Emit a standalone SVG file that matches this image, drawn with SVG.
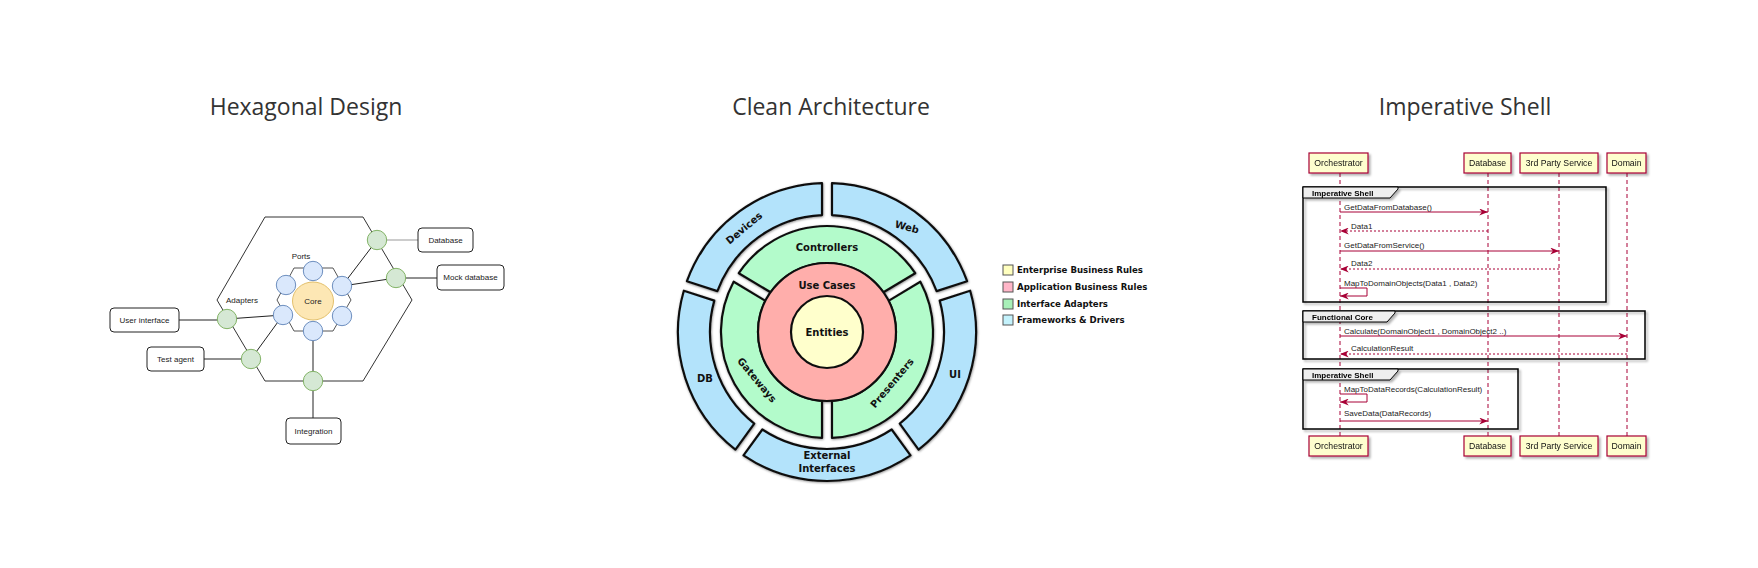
<svg xmlns="http://www.w3.org/2000/svg" width="1758" height="568" viewBox="0 0 1758 568">
<defs>
<style>
.title{font-family:"Open Sans","Liberation Sans",sans-serif;font-size:23px;fill:#333;text-anchor:middle}
.hx{font-family:"Liberation Sans",Arial,sans-serif;font-size:8px;fill:#222;text-anchor:middle;dominant-baseline:central}
.hexl{fill:none;stroke:#333;stroke-width:1}
.conn{stroke:#222;stroke-width:1;fill:none}
.grn{fill:#d5e8d4;stroke:#82b366;stroke-width:1}
.blu{fill:#dae8fc;stroke:#6c8ebf;stroke-width:1}
.box{fill:#fff;stroke:#222;stroke-width:1}
.ca{stroke:#111;stroke-width:2.2;stroke-linejoin:round}
.cab{fill:#b3e3fb}
.cag{fill:#b3fbcb}
.cal{font-family:"DejaVu Sans",Verdana,sans-serif;font-weight:bold;font-size:10px;fill:#111;text-anchor:middle;dominant-baseline:central}
.leg{font-family:"DejaVu Sans",Verdana,sans-serif;font-weight:bold;font-size:8.6px;fill:#111}
.legb{stroke:#555;stroke-width:1}
.part{fill:#fefece;stroke:#a80036;stroke-width:1.2}
.pt{font-family:"Liberation Sans",Arial,sans-serif;font-size:8.7px;fill:#111;text-anchor:middle;dominant-baseline:central}
.life{stroke:#a80036;stroke-width:1;stroke-dasharray:4,3;fill:none}
.msg{stroke:#a80036;stroke-width:1;fill:none}
.ret{stroke:#a80036;stroke-width:1;fill:none;stroke-dasharray:2,2}
.mt{font-family:"Liberation Sans",Arial,sans-serif;font-size:8px;fill:#222}
.frame{fill:none;stroke:#000;stroke-width:1.5}
.tab{fill:#eee;stroke:#000;stroke-width:1}
.gl{font-family:"Liberation Sans",Arial,sans-serif;font-size:8px;font-weight:bold;fill:#000}
</style>
<filter id="sh" x="-10%" y="-10%" width="130%" height="140%"><feDropShadow dx="2" dy="2" stdDeviation="1.2" flood-color="#000" flood-opacity="0.3"/></filter>
<filter id="soft" x="-10%" y="-10%" width="120%" height="120%"><feDropShadow dx="0.5" dy="0.8" stdDeviation="1" flood-color="#000" flood-opacity="0.45"/></filter>
<marker id="ah" viewBox="0 0 10 8" refX="10" refY="4" markerWidth="9" markerHeight="7" markerUnits="userSpaceOnUse" orient="auto-start-reverse"><path d="M0,0 L10,4 L0,8 L3,4 Z" fill="#a80036"/></marker>
</defs>
<rect width="1758" height="568" fill="#fff"/>

<text class="title" x="306" y="115">Hexagonal Design</text>
<text class="title" x="831" y="115">Clean Architecture</text>
<text class="title" x="1465" y="115">Imperative Shell</text>

<!-- ===== Hexagonal Design ===== -->
<g id="hex-outer"><polygon class="hexl" points="265,217 363,217 412,300 363,381 265,381 217,300"/></g>
<g id="hex-inner"><polygon fill="none" stroke="#555" stroke-width="1" points="294,268 333,268 351,300 333,331 294,331 277,300"/></g>
<g id="hex-connectors">
<line class="conn" x1="179" y1="320" x2="227" y2="320"/>
<line class="conn" x1="227" y1="319" x2="283" y2="315"/>
<line class="conn" x1="204" y1="359" x2="251" y2="359"/>
<line class="conn" x1="251" y1="359" x2="283" y2="315"/>
<line class="conn" x1="313" y1="331" x2="313" y2="418"/>
<line class="conn" x1="377" y1="240" x2="342" y2="286"/>
<line class="conn" x1="396" y1="278" x2="342" y2="286"/>
<line x1="377" y1="240" x2="418" y2="240" stroke="#999" stroke-width="1"/>
<line class="conn" x1="396" y1="278" x2="437" y2="278"/>
</g>
<g id="core"><ellipse cx="313" cy="301" rx="20.5" ry="19" fill="#fde7b4" stroke="#e3c06c" stroke-width="1"/><text class="hx" x="313" y="301">Core</text></g>
<g id="port-top"><circle class="blu" cx="313" cy="271" r="9.7"/></g>
<g id="port-ul"><circle class="blu" cx="286" cy="285" r="9.7"/></g>
<g id="port-ur"><circle class="blu" cx="342" cy="286" r="9.7"/></g>
<g id="port-ll"><circle class="blu" cx="283" cy="315" r="9.7"/></g>
<g id="port-lr"><circle class="blu" cx="342" cy="316" r="9.7"/></g>
<g id="port-bottom"><circle class="blu" cx="313" cy="331" r="9.7"/></g>
<g id="ports-label"><text class="hx" x="301" y="256">Ports</text></g>
<g id="adapters-label"><text class="hx" x="242" y="300">Adapters</text></g>
<g id="adapter-db"><circle class="grn" cx="377" cy="240" r="9.7"/></g>
<g id="adapter-mock"><circle class="grn" cx="396" cy="278" r="9.7"/></g>
<g id="adapter-ui"><circle class="grn" cx="227" cy="319" r="9.7"/></g>
<g id="adapter-test"><circle class="grn" cx="251" cy="359" r="9.7"/></g>
<g id="adapter-int"><circle class="grn" cx="313" cy="381" r="9.7"/></g>
<g id="box-ui"><rect class="box" x="110" y="308" width="69" height="24" rx="4"/><text class="hx" x="144.5" y="320">User interface</text></g>
<g id="box-test"><rect class="box" x="147" y="347" width="57" height="24" rx="4"/><text class="hx" x="175.5" y="359">Test agent</text></g>
<g id="box-int"><rect class="box" x="286" y="418" width="55" height="26" rx="4"/><text class="hx" x="313.5" y="431">Integration</text></g>
<g id="box-db"><rect class="box" x="418" y="228" width="55" height="24" rx="4"/><text class="hx" x="445.5" y="240">Database</text></g>
<g id="box-mock"><rect class="box" x="437" y="265" width="67" height="25" rx="4"/><text class="hx" x="470.5" y="277.5">Mock database</text></g>

<!-- ===== Clean Architecture ===== -->
<g filter="url(#soft)">
<g id="ca-web"><path class="ca cab" d="M967.08,281.23 A149,149 0 0 0 832,183.08 L832,215.11 A117,117 0 0 1 936.63,291.12 Z"/></g>
<g id="ca-devices"><path class="ca cab" d="M822,183.08 A149,149 0 0 0 686.92,281.23 L717.37,291.12 A117,117 0 0 1 822,215.11 Z"/></g>
<g id="ca-db"><path class="ca cab" d="M683.83,290.74 A149,149 0 0 0 735.42,449.54 L754.25,423.63 A117,117 0 0 1 714.29,300.63 Z"/></g>
<g id="ca-external"><path class="ca cab" d="M743.52,455.42 A149,149 0 0 0 910.48,455.42 L891.66,429.51 A117,117 0 0 1 762.34,429.51 Z"/></g>
<g id="ca-ui"><path class="ca cab" d="M918.58,449.54 A149,149 0 0 0 970.17,290.74 L939.71,300.63 A117,117 0 0 1 899.75,423.63 Z"/></g>
<g id="ca-controllers"><path class="ca cag" d="M915.19,273.19 A106,106 0 0 0 738.81,273.19 L770.59,292.27 A69,69 0 0 1 883.41,292.27 Z"/></g>
<g id="ca-gateways"><path class="ca cag" d="M733.66,281.75 A106,106 0 0 0 822,437.88 L822,400.82 A69,69 0 0 1 765.43,300.84 Z"/></g>
<g id="ca-presenters"><path class="ca cag" d="M832,437.88 A106,106 0 0 0 920.34,281.75 L888.57,300.84 A69,69 0 0 1 832,400.82 Z"/></g>
<g id="ca-usecases"><circle class="ca" cx="827" cy="332" r="69" fill="#ffaeab"/></g>
<g id="ca-entities"><circle class="ca" cx="827" cy="332" r="36" fill="#ffffcc"/></g>
</g>
<g id="ca-labels">
<text class="cal" x="827" y="247">Controllers</text>
<text class="cal" x="827" y="285">Use Cases</text>
<text class="cal" x="827" y="332">Entities</text>
<text class="cal" transform="translate(744,228) rotate(-40)">Devices</text>
<text class="cal" transform="translate(907,227) rotate(15)">Web</text>
<text class="cal" x="705" y="378">DB</text>
<text class="cal" x="955" y="374">UI</text>
<text class="cal" transform="translate(757,380) rotate(50)">Gateways</text>
<text class="cal" transform="translate(892,383) rotate(-50)">Presenters</text>
<text class="cal" x="827" y="455">External</text>
<text class="cal" x="827" y="468">Interfaces</text>
</g>
<g id="legend">
<rect class="legb" x="1003" y="265" width="10" height="10" fill="#ffffbf"/><text class="leg" x="1017" y="273">Enterprise Business Rules</text>
<rect class="legb" x="1003" y="282" width="10" height="10" fill="#ffb6c8"/><text class="leg" x="1017" y="290">Application Business Rules</text>
<rect class="legb" x="1003" y="299" width="10" height="10" fill="#a8f0b8"/><text class="leg" x="1017" y="307">Interface Adapters</text>
<rect class="legb" x="1003" y="315" width="10" height="10" fill="#c4f2fc"/><text class="leg" x="1017" y="323">Frameworks &amp; Drivers</text>
</g>

<!-- ===== Imperative Shell sequence ===== -->
<g id="lifelines">
<line class="life" x1="1340" y1="173" x2="1340" y2="436"/>
<line class="life" x1="1488" y1="173" x2="1488" y2="436"/>
<line class="life" x1="1559" y1="173" x2="1559" y2="436"/>
<line class="life" x1="1627" y1="173" x2="1627" y2="436"/>
</g>
<g id="group-shell-1" filter="url(#sh)">
<rect class="frame" x="1303" y="187" width="303" height="115"/>
<path class="tab" d="M1303,187 L1398,187 L1398,189 L1390,198 L1303,198 Z"/>
<text class="gl" x="1312" y="196">Imperative Shell</text>
</g>
<g id="group-core" filter="url(#sh)">
<rect class="frame" x="1303" y="311" width="342" height="48"/>
<path class="tab" d="M1303,311 L1395,311 L1395,313 L1387,322 L1303,322 Z"/>
<text class="gl" x="1312" y="320">Functional Core</text>
</g>
<g id="group-shell-2" filter="url(#sh)">
<rect class="frame" x="1303" y="369" width="215" height="60"/>
<path class="tab" d="M1303,369 L1398,369 L1398,371 L1390,380 L1303,380 Z"/>
<text class="gl" x="1312" y="378">Imperative Shell</text>
</g>
<g id="messages">
<text class="mt" x="1344" y="210">GetDataFromDatabase()</text>
<line class="msg" x1="1340" y1="212" x2="1488" y2="212" marker-end="url(#ah)"/>
<text class="mt" x="1351" y="229">Data1</text>
<line class="ret" x1="1488" y1="231" x2="1340" y2="231" marker-end="url(#ah)"/>
<text class="mt" x="1344" y="248">GetDataFromService()</text>
<line class="msg" x1="1340" y1="251" x2="1559" y2="251" marker-end="url(#ah)"/>
<text class="mt" x="1351" y="266">Data2</text>
<line class="ret" x1="1559" y1="269" x2="1340" y2="269" marker-end="url(#ah)"/>
<text class="mt" x="1344" y="286">MapToDomainObjects(Data1 , Data2)</text>
<polyline class="msg" points="1340,288 1367,288 1367,296 1340,296" marker-end="url(#ah)"/>
<text class="mt" x="1344" y="334">Calculate(DomainObject1 , DomainObject2 ..)</text>
<line class="msg" x1="1340" y1="336" x2="1627" y2="336" marker-end="url(#ah)"/>
<text class="mt" x="1351" y="351">CalculationResult</text>
<line class="ret" x1="1627" y1="354" x2="1340" y2="354" marker-end="url(#ah)"/>
<text class="mt" x="1344" y="392">MapToDataRecords(CalculationResult)</text>
<polyline class="msg" points="1340,394 1367,394 1367,402 1340,402" marker-end="url(#ah)"/>
<text class="mt" x="1344" y="416">SaveData(DataRecords)</text>
<line class="msg" x1="1340" y1="421" x2="1488" y2="421" marker-end="url(#ah)"/>
</g>
<g id="p-orchestrator" filter="url(#sh)">
<rect class="part" x="1309" y="153" width="59" height="20"/><text class="pt" x="1338.5" y="163">Orchestrator</text>
<rect class="part" x="1309" y="436" width="59" height="20"/><text class="pt" x="1338.5" y="446">Orchestrator</text>
</g>
<g id="p-database" filter="url(#sh)">
<rect class="part" x="1464" y="153" width="47" height="20"/><text class="pt" x="1487.5" y="163">Database</text>
<rect class="part" x="1464" y="436" width="47" height="20"/><text class="pt" x="1487.5" y="446">Database</text>
</g>
<g id="p-3rdparty" filter="url(#sh)">
<rect class="part" x="1520" y="153" width="78" height="20"/><text class="pt" x="1559" y="163">3rd Party Service</text>
<rect class="part" x="1520" y="436" width="78" height="20"/><text class="pt" x="1559" y="446">3rd Party Service</text>
</g>
<g id="p-domain" filter="url(#sh)">
<rect class="part" x="1607" y="153" width="39" height="20"/><text class="pt" x="1626.5" y="163">Domain</text>
<rect class="part" x="1607" y="436" width="39" height="20"/><text class="pt" x="1626.5" y="446">Domain</text>
</g>
</svg>
